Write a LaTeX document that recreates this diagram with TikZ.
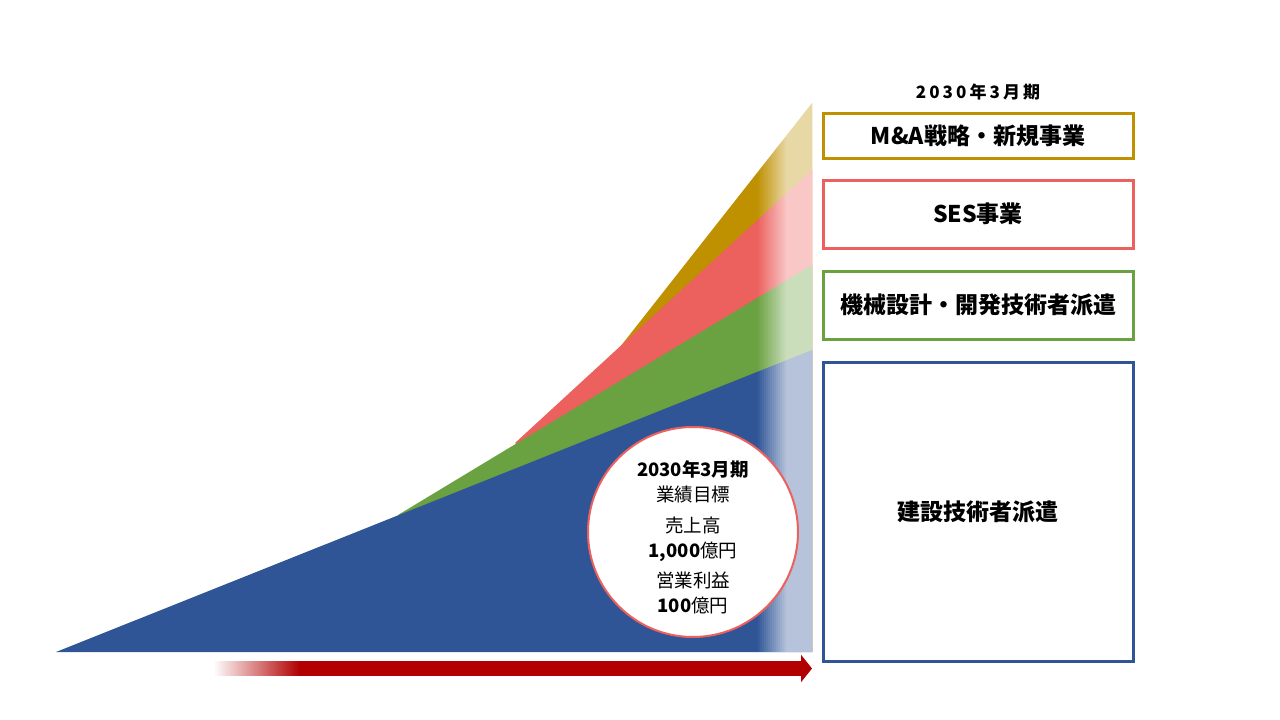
\documentclass[tikz,border=0pt]{standalone}
\usepackage{fontspec}
\setmainfont{Noto Sans CJK JP}
\usepackage{xcolor}
\usepackage{tikz}
\usetikzlibrary{positioning, arrows.meta}

\definecolor{bizblue}{RGB}{47,85,151}
\definecolor{bizgreen}{RGB}{106,161,65}
\definecolor{bizred}{RGB}{236,96,94}
\definecolor{bizgold}{RGB}{191,144,0}
\definecolor{arrowred}{RGB}{178,0,0}

\begin{document}
\begin{tikzpicture}[x=1pt, y=-1pt,
    seg/.style={draw=#1, line width=3pt, fill=white, minimum width=310pt,
        outer sep=0pt, inner sep=0pt, font=\fontsize{23}{27}\selectfont\bfseries},
    layer/.style={fill=#1, draw=none}]
\useasboundingbox (0,0) rectangle (1280,720);

% growth layers
\coordinate (p0) at (56,652);
\coordinate (p1) at (398,515);
\coordinate (p2) at (515,443);
\coordinate (p3) at (620,347);
\coordinate (t1) at (812,350);
\coordinate (t2) at (812,265);
\coordinate (t3) at (812,170);
\coordinate (t4) at (812,103);
\coordinate (b)  at (812,652);

\fill[layer=bizgold]  (p3) -- (t4) -- (b) -- cycle;
\fill[layer=bizred]   (p2) -- (t3) -- (b) -- cycle;
\fill[layer=bizgreen] (p1) -- (t2) -- (b) -- cycle;
\fill[layer=bizblue]  (p0) -- (t1) -- (b) -- cycle;

% fade at the right edge
\foreach \i [evaluate=\i as \op using 0.65*\i/15] in {1,...,15}
    \fill[white, opacity=\op] (758+2*\i-2,100) rectangle (758+2*\i,652);
\fill[white, opacity=0.65] (788,100) rectangle (812,652);

% time arrow
\coordinate (a0) at (213,668.5);
\coordinate (a1) at (812,668.5);
\draw[arrowred, line width=15pt, -{Triangle[length=11pt, width=27pt]}] (a0) -- (a1);
\foreach \i [evaluate=\i as \op using 1-\i/43] in {0,...,42}
    \fill[white, opacity=\op] (213+2*\i,658) rectangle (215+2*\i,679);

% target
\node[circle, draw=bizred, line width=2pt, fill=white, minimum size=210pt] (goal) at (693,532) {};
\node[align=center, inner sep=0pt, font=\fontsize{18.5}{25}\selectfont] (goaltxt) at (693,537)
    {\textbf{2030年3月期}\\業績目標\\[6pt]売上高\\\textbf{1,000}億円\\[5pt]営業利益\\\textbf{100}億円};

% segments
\node[seg=bizgold, minimum height=45pt] (ma) at (978,135.5) {M\&A戦略・新規事業};
\node[seg=bizred, minimum height=68pt, below=22pt of ma] (ses) {SES事業};
\node[seg=bizgreen, minimum height=68pt, below=23pt of ses] (mech) {機械設計・開発技術者派遣};
\node[seg=bizblue, minimum height=299pt, below=23pt of mech] (cons) {建設技術者派遣};
\node[inner sep=0pt, above=13pt of ma, font=\fontsize{17}{19}\selectfont\bfseries] (term)
    {\addfontfeature{LetterSpace=18}2030年3月期};
\end{tikzpicture}
\end{document}
